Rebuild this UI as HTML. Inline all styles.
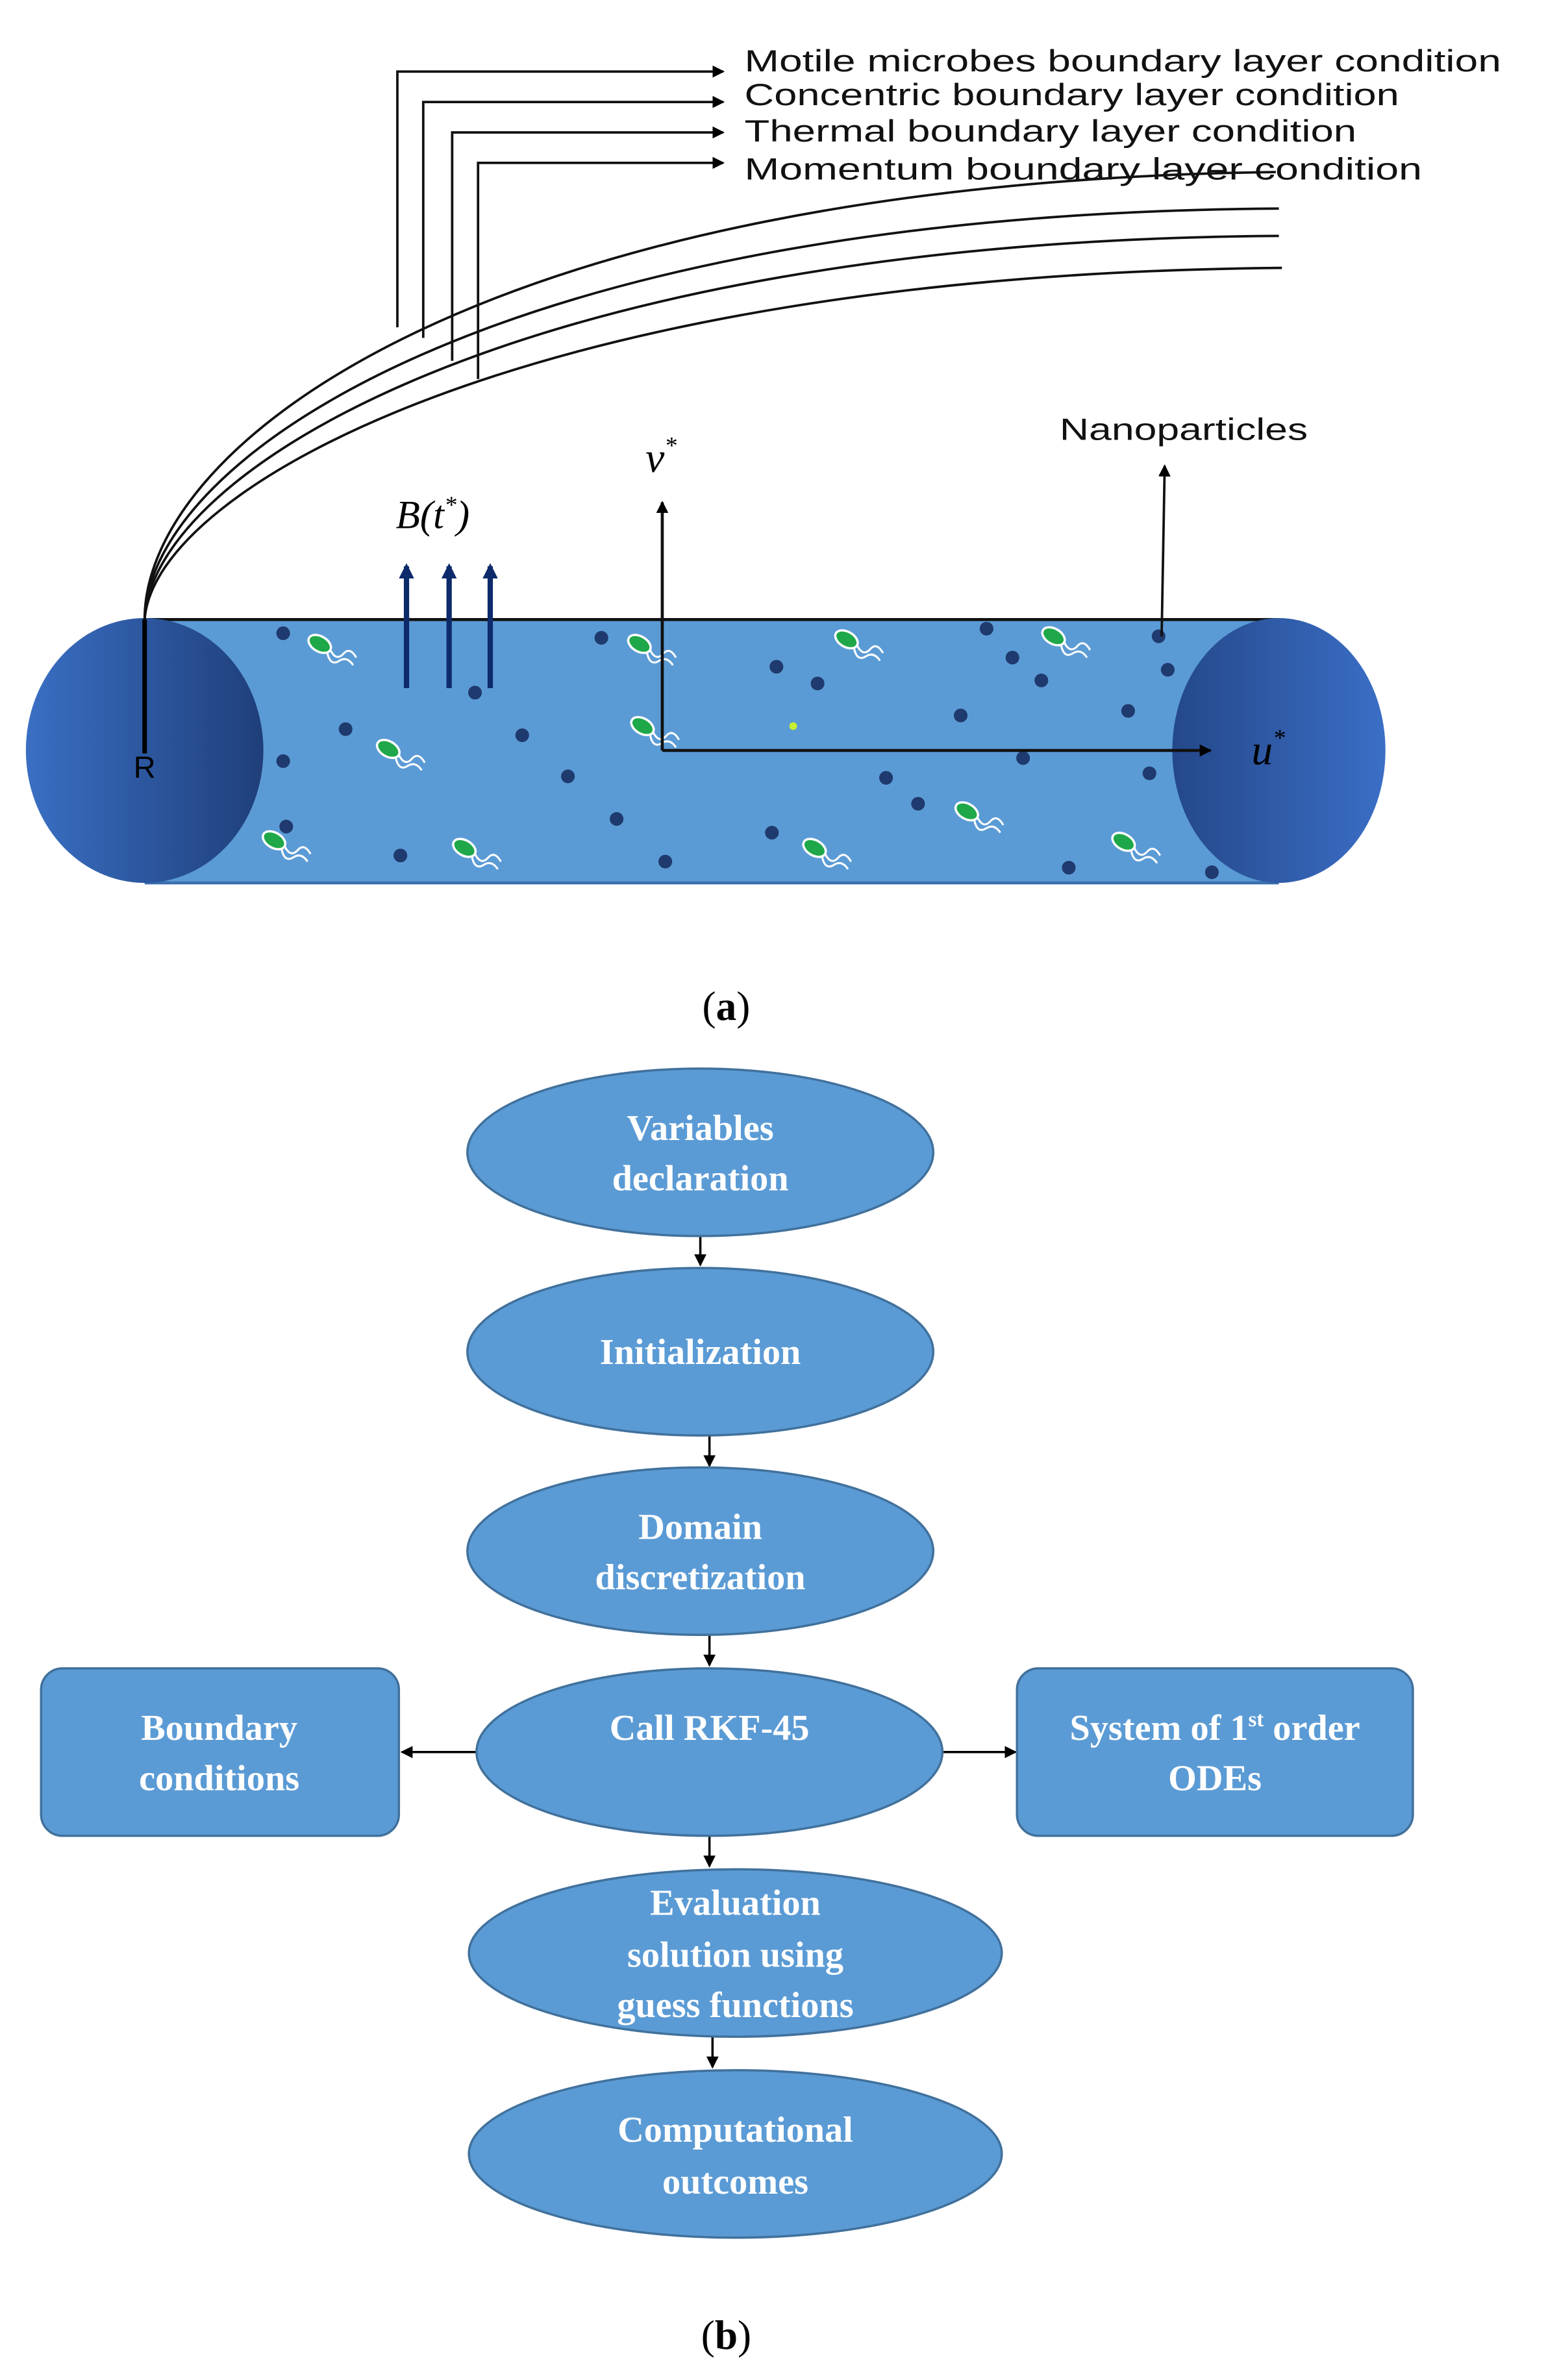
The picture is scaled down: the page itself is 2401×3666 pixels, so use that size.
<!DOCTYPE html>
<html><head><meta charset="utf-8"><style>html,body{margin:0;padding:0;background:#fff}svg{display:block}</style></head>
<body>
<svg width="2401" height="3666" viewBox="0 0 1024 1563.5" preserveAspectRatio="none" xmlns="http://www.w3.org/2000/svg">
<defs>
<linearGradient id="lg" x1="0" x2="1"><stop offset="0" stop-color="#3a6fc4"/><stop offset="1" stop-color="#1f3f7a"/></linearGradient>
<linearGradient id="rg" x1="0" x2="1"><stop offset="0" stop-color="#24488a"/><stop offset="1" stop-color="#3b6ec6"/></linearGradient>
<marker id="ah" markerWidth="8" markerHeight="8" refX="7" refY="4" orient="auto" markerUnits="userSpaceOnUse"><path d="M0,0 L8,4 L0,8 z" fill="#000"/></marker>
<marker id="ahn" markerWidth="10" markerHeight="10" refX="8" refY="5" orient="auto" markerUnits="userSpaceOnUse"><path d="M0,0 L10,5 L0,10 z" fill="#0d2a6b"/></marker>
<g id="mic"><ellipse cx="0" cy="0" rx="8" ry="5" fill="#1fa84a" stroke="#fff" stroke-width="1.5" transform="rotate(30)"/><path d="M7,4 q4,8 9,2 q4,-4 8,3 M5,6 q2,9 8,5 q5,-3 9,3" fill="none" stroke="#fff" stroke-width="1.3"/></g>
</defs>
<!-- tube -->
<rect x="95" y="407" width="745" height="173" fill="#5b9bd5"/>
<line x1="95" y1="407" x2="840" y2="407" stroke="#111" stroke-width="2"/>
<line x1="95" y1="580" x2="840" y2="580" stroke="#3a6fb0" stroke-width="2"/>
<ellipse cx="95" cy="493" rx="78" ry="87" fill="url(#lg)"/>
<ellipse cx="840" cy="493" rx="70" ry="87" fill="url(#rg)"/>
<g fill="#1f3a6e">
<circle cx="186" cy="416" r="4.5"/><circle cx="395" cy="419" r="4.5"/><circle cx="510" cy="438" r="4.5"/><circle cx="537" cy="449" r="4.5"/><circle cx="648" cy="413" r="4.5"/><circle cx="665" cy="432" r="4.5"/><circle cx="684" cy="447" r="4.5"/><circle cx="767" cy="440" r="4.5"/><circle cx="761" cy="418" r="4.5"/><circle cx="312" cy="455" r="4.5"/><circle cx="227" cy="479" r="4.5"/><circle cx="343" cy="483" r="4.5"/><circle cx="186" cy="500" r="4.5"/><circle cx="373" cy="510" r="4.5"/><circle cx="631" cy="470" r="4.5"/><circle cx="741" cy="467" r="4.5"/><circle cx="672" cy="498" r="4.5"/><circle cx="755" cy="508" r="4.5"/><circle cx="582" cy="511" r="4.5"/><circle cx="603" cy="528" r="4.5"/><circle cx="405" cy="538" r="4.5"/><circle cx="188" cy="543" r="4.5"/><circle cx="507" cy="547" r="4.5"/><circle cx="263" cy="562" r="4.5"/><circle cx="437" cy="566" r="4.5"/><circle cx="702" cy="570" r="4.5"/><circle cx="796" cy="573" r="4.5"/>
</g>
<circle cx="521" cy="477" r="2.5" fill="#c8f030"/>
<use href="#mic" x="210" y="423"/><use href="#mic" x="420" y="423"/><use href="#mic" x="556" y="420"/><use href="#mic" x="692" y="418"/><use href="#mic" x="422" y="477"/><use href="#mic" x="255" y="492"/><use href="#mic" x="180" y="552"/><use href="#mic" x="305" y="557"/><use href="#mic" x="535" y="557"/><use href="#mic" x="635" y="533"/><use href="#mic" x="738" y="553"/>
<!-- boundary layer curves -->
<g fill="none" stroke="#111" stroke-width="1.6">
<path d="M95,407 C95,290 320,120 838,113"/>
<path d="M95,407 C97,300 330,140 840,137"/>
<path d="M95,407 C99,310 340,158 840,155"/>
<path d="M95,407 C101,320 350,180 842,176"/>
<path d="M261,215 V47 H475" marker-end="url(#ah)"/>
<path d="M278,222 V67 H475" marker-end="url(#ah)"/>
<path d="M297,237 V87 H475" marker-end="url(#ah)"/>
<path d="M314,249 V107 H475" marker-end="url(#ah)"/>
</g>
<line x1="95" y1="407" x2="95" y2="495" stroke="#000" stroke-width="3"/>
<text x="95" y="511" font-family="Liberation Sans, sans-serif" font-size="20" text-anchor="middle">R</text>
<g font-family="Liberation Sans, sans-serif" font-size="20" fill="#111">
<text x="489" y="47" textLength="497" lengthAdjust="spacingAndGlyphs">Motile microbes boundary layer condition</text>
<text x="489" y="69" textLength="430" lengthAdjust="spacingAndGlyphs">Concentric boundary layer condition</text>
<text x="489" y="93" textLength="402" lengthAdjust="spacingAndGlyphs">Thermal boundary layer condition</text>
<text x="489" y="118" textLength="445" lengthAdjust="spacingAndGlyphs">Momentum boundary layer condition</text>
<text x="696" y="289" textLength="163" lengthAdjust="spacingAndGlyphs">Nanoparticles</text>
</g>
<line x1="763" y1="418" x2="765" y2="306" stroke="#111" stroke-width="1.6" marker-end="url(#ah)"/>
<g stroke="#0d2a6b" stroke-width="3.5">
<line x1="267" y1="452" x2="267" y2="372" marker-end="url(#ahn)"/>
<line x1="295" y1="452" x2="295" y2="372" marker-end="url(#ahn)"/>
<line x1="322" y1="452" x2="322" y2="372" marker-end="url(#ahn)"/>
</g>
<text x="260" y="347" font-family="Liberation Serif, serif" font-size="26" font-style="italic">B(t<tspan font-size="16" dy="-10">*</tspan><tspan dy="10">)</tspan></text>
<g stroke="#111" stroke-width="2" fill="none">
<path d="M435,493 V330" marker-end="url(#ah)"/>
<path d="M435,493 H795" marker-end="url(#ah)"/>
</g>
<text x="424" y="310" font-family="Liberation Serif, serif" font-size="28" font-style="italic">v<tspan font-size="16" dy="-12">*</tspan></text>
<text x="822" y="502" font-family="Liberation Serif, serif" font-size="28" font-style="italic">u<tspan font-size="16" dy="-12">*</tspan></text>
<text x="477" y="670" font-family="Liberation Serif, serif" font-size="27" text-anchor="middle">(<tspan font-weight="bold">a</tspan>)</text>
<!-- flowchart -->
<g stroke="#000" stroke-width="1.5" fill="none">
<line x1="460" y1="812" x2="460" y2="831" marker-end="url(#ah)"/>
<line x1="466" y1="943" x2="466" y2="963" marker-end="url(#ah)"/>
<line x1="466" y1="1074" x2="466" y2="1094" marker-end="url(#ah)"/>
<line x1="466" y1="1206" x2="466" y2="1226" marker-end="url(#ah)"/>
<line x1="468" y1="1338" x2="468" y2="1358" marker-end="url(#ah)"/>
<line x1="313" y1="1151" x2="264" y2="1151" marker-end="url(#ah)"/>
<line x1="619" y1="1151" x2="667" y2="1151" marker-end="url(#ah)"/>
</g>
<g fill="#5b9bd5" stroke="#41719c" stroke-width="1.5">
<ellipse cx="460" cy="757" rx="153" ry="55"/>
<ellipse cx="460" cy="888" rx="153" ry="55"/>
<ellipse cx="460" cy="1019" rx="153" ry="55"/>
<ellipse cx="466" cy="1151" rx="153" ry="55"/>
<rect x="27" y="1096" width="235" height="110" rx="14"/>
<rect x="668" y="1096" width="260" height="110" rx="14"/>
<ellipse cx="483" cy="1283" rx="175" ry="55"/>
<ellipse cx="483" cy="1415" rx="175" ry="55"/>
</g>
<g font-family="Liberation Serif, serif" font-size="24" font-weight="bold" fill="#fff" text-anchor="middle">
<text x="460" y="749">Variables</text><text x="460" y="782">declaration</text>
<text x="460" y="896">Initialization</text>
<text x="460" y="1011">Domain</text><text x="460" y="1044">discretization</text>
<text x="466" y="1143">Call RKF-45</text>
<text x="144" y="1143">Boundary</text><text x="144" y="1176">conditions</text>
<text x="798" y="1143">System of 1<tspan font-size="14" dy="-9">st</tspan><tspan dy="9"> order</tspan></text><text x="798" y="1176">ODEs</text>
<text x="483" y="1258">Evaluation</text><text x="483" y="1292">solution using</text><text x="483" y="1325">guess functions</text>
<text x="483" y="1407">Computational</text><text x="483" y="1441">outcomes</text>
</g>
<text x="477" y="1543" font-family="Liberation Serif, serif" font-size="27" text-anchor="middle">(<tspan font-weight="bold">b</tspan>)</text>
</svg>
</body></html>
